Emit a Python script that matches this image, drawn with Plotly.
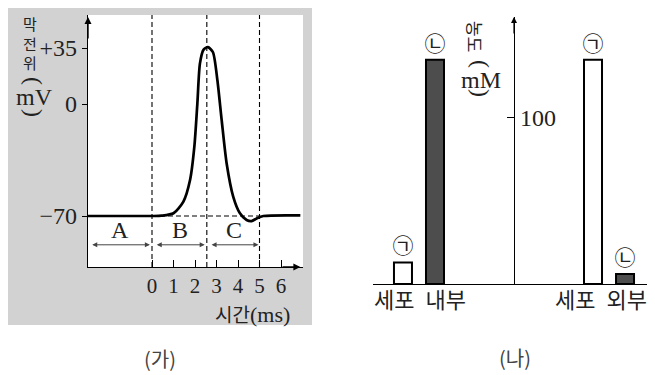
import plotly.graph_objs as go

# (가) membrane potential over time
time_ms = [-3.0, 0.0, 0.45, 1.0, 1.46, 1.77, 1.97, 2.11, 2.23, 2.4, 2.6, 2.83, 3.04, 3.24, 3.47, 3.78, 4.09, 4.4, 4.63, 4.87, 5.18, 6.9]
potential_mv = [-70, -70, -69.8, -68.3, -61, -47.5, -26.7, 0.4, 25.4, 34.0, 35.5, 32.5, 15, -10, -37, -58, -68.3, -72.5, -73.2, -71.5, -70, -69.6]
rest_mv = -70
phase_bounds = [0, 2.55, 5]
phase_names = ['A', 'B', 'C']
phase_spans = [(-2.85, -0.1), (0.15, 2.45), (2.7, 4.95)]
time_ticks = [0, 1, 2, 3, 4, 5, 6]
potential_ticks = [-70, 0, 35]
potential_labels = ['\u221270', '0', '+35']

# (나) ion concentration (mM)
categories = ['세포 내부', '세포 외부']
ion_a = [13, 135]   # ㉠
ion_b = [135, 6]    # ㉡
conc_ticks = [100]

# page has an 8px body margin, so the figure is 8px smaller and positions are shifted
OFF = 8
W, H = 655 - OFF, 375 - OFF
SERIF = 'Liberation Serif'
KR = 'Noto Sans CJK KR'


def fx(x):
    return (x - OFF) / W


def fy(y):
    return min(1, 1 - (y - OFF) / H)


x_rng = [(88 - 152) / 21.5, (303 - 152) / 21.5]
y_rng = [(104 - 267) / 1.6, (104 - 15) / 1.6]

fig = go.Figure()

fig.add_trace(go.Scatter(x=time_ms, y=potential_mv, mode='lines',
                         line=dict(color='black', width=2.7, shape='spline', smoothing=0.7),
                         xaxis='x', yaxis='y'))
for t in phase_bounds:
    fig.add_trace(go.Scatter(x=[t, t], y=y_rng, mode='lines',
                             line=dict(color='black', width=1.1, dash='5px,3px'),
                             xaxis='x', yaxis='y'))
fig.add_trace(go.Scatter(x=[phase_bounds[0], phase_bounds[-1]], y=[rest_mv, rest_mv], mode='lines',
                         line=dict(color='black', width=1.1, dash='5px,3px'),
                         xaxis='x', yaxis='y'))

fig.add_trace(go.Bar(x=categories, y=ion_a, text=['㉠'] * 2, textposition='outside',
                     marker=dict(color='white', line=dict(color='black', width=2)),
                     textfont=dict(family=KR, size=21, color='#222'), constraintext='none',
                     cliponaxis=False, xaxis='x2', yaxis='y2'))
fig.add_trace(go.Bar(x=categories, y=ion_b, text=['㉡'] * 2, textposition='outside',
                     marker=dict(color='#4d4d4d', line=dict(color='black', width=2)),
                     textfont=dict(family=KR, size=21, color='#222'), constraintext='none',
                     cliponaxis=False, xaxis='x2', yaxis='y2'))

ann = []
# axis arrowheads
ann.append(dict(xref='x', yref='y', axref='x', ayref='y', x=x_rng[0], y=54.4, ax=x_rng[0], ay=40,
                text='', showarrow=True, arrowhead=2, arrowsize=1, arrowwidth=1.4, arrowcolor='black'))
ann.append(dict(xref='x', yref='y', axref='x', ayref='y', x=6.9, y=y_rng[0], ax=6.0, ay=y_rng[0],
                text='', showarrow=True, arrowhead=2, arrowsize=1, arrowwidth=1.4, arrowcolor='black'))
ann.append(dict(xref='x2', yref='y2', axref='x2', ayref='y2', x=0.5, y=160.8, ax=0.5, ay=150,
                text='', showarrow=True, arrowhead=2, arrowsize=1, arrowwidth=1.2, arrowcolor='black'))

# phase spans A, B, C
for name, (t0, t1) in zip(phase_names, phase_spans):
    ann.append(dict(xref='x', yref='y', axref='x', ayref='y', x=t1, y=-88, ax=t0, ay=-88,
                    text='', showarrow=True, arrowhead=2, startarrowhead=2, arrowside='end+start',
                    arrowsize=1, arrowwidth=1, arrowcolor='#444'))
    ann.append(dict(xref='x', yref='y', x=(t0 + t1) / 2, y=-79, text=name, showarrow=False,
                    font=dict(family=SERIF, size=24, color='#222')))


def label(x, y, text, font, size, angle=0, color='#222'):
    ann.append(dict(xref='paper', yref='paper', x=fx(x), y=fy(y), text=text, showarrow=False,
                    xanchor='center', yanchor='middle', textangle=angle,
                    font=dict(family=font, size=size, color=color)))


label(30, 43, '막<br>전<br>위', KR, 15)
label(34, 81, '(', SERIF, 24, 90)
label(34, 97, 'mV', SERIF, 24)
label(34, 113, ')', SERIF, 24, 90)
label(252, 313, '시간<span style="font-family:Liberation Serif;font-size:22px">(ms)</span>', KR, 19)

label(476, 36, '농도', KR, 17, 90)
label(481, 64, '(', SERIF, 24, 90)
label(481, 80, 'mM', SERIF, 24)
label(481, 93, ')', SERIF, 24, 90)

for cat, shift in zip(categories, [1, -8]):
    ann.append(dict(xref='x2', yref='y2', x=cat, y=0, yshift=-14, xshift=shift,
                    text=cat.replace(' ', '\u2002'), showarrow=False, yanchor='middle',
                    font=dict(family=KR, size=22, color='#222')))

label(160, 358, '(가)', KR, 20, color='#444')
label(515, 357, '(나)', KR, 20, color='#444')

shapes = [
    dict(type='rect', xref='paper', yref='paper', x0=fx(8), x1=fx(312), y0=fy(325), y1=fy(4),
         fillcolor='#d2d2d2', line=dict(width=0), layer='below'),
    dict(type='rect', xref='paper', yref='paper', x0=fx(88), x1=fx(303), y0=fy(267), y1=fy(15),
         fillcolor='white', line=dict(width=0), layer='below'),
]

layout = go.Layout(
    width=W, height=H, margin=dict(l=0, r=0, t=0, b=0),
    paper_bgcolor='white', plot_bgcolor='rgba(0,0,0,0)', showlegend=False,
    barmode='group', bargap=0.663, bargroupgap=0.4375,
    xaxis=dict(domain=[fx(88), fx(303)], range=x_rng, anchor='y', showline=True, linecolor='black',
               linewidth=1.4, ticks='inside', ticklen=7, tickcolor='black', tickvals=time_ticks,
               tickfont=dict(family=SERIF, size=21, color='#222'), showgrid=False, zeroline=False),
    yaxis=dict(domain=[fy(267), fy(15)], range=y_rng, anchor='x', showline=True, linecolor='black',
               linewidth=1.4, ticks='outside', ticklen=5, tickcolor='black', tickvals=potential_ticks,
               ticktext=potential_labels, tickfont=dict(family=SERIF, size=24, color='#222'),
               showgrid=False, zeroline=False),
    xaxis2=dict(domain=[fx(373), 1], range=[-0.242, 1.242], anchor='y2', showline=True, linecolor='black',
                linewidth=1.3, ticks='', showticklabels=False, showgrid=False, zeroline=False),
    yaxis2=dict(domain=[fy(284), fy(17)], range=[0, 160.8], anchor='free', position=fx(514),
                side='right', showline=True, linecolor='black', linewidth=1.2, ticks='inside', ticklen=7,
                tickcolor='black', tickvals=conc_ticks, tickfont=dict(family=SERIF, size=24, color='#222'),
                showgrid=False, zeroline=False),
    annotations=ann, shapes=shapes,
)

fig = go.Figure(data=fig.data, layout=layout)
fig.write_html('out.html')
